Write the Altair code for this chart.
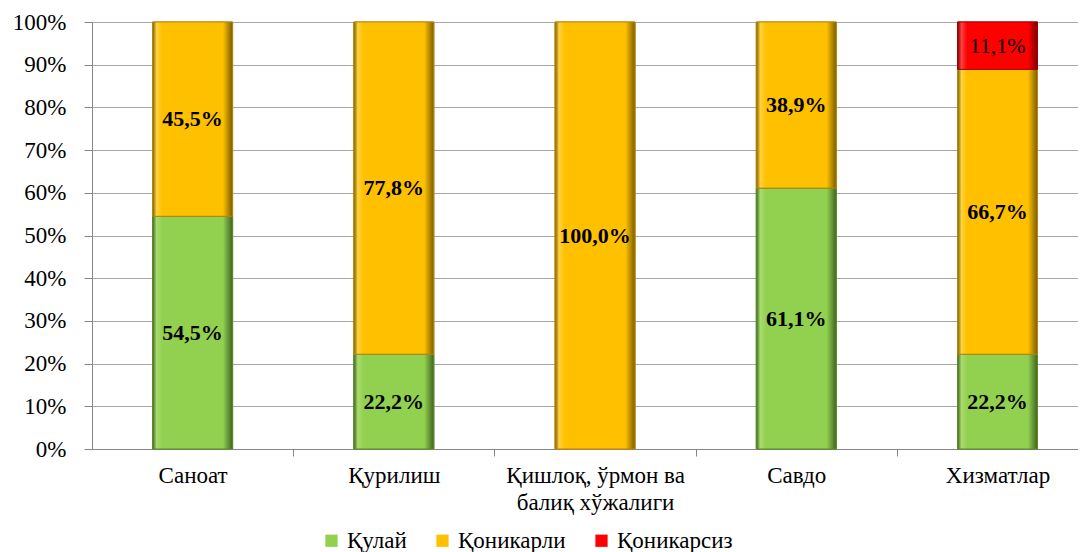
import altair as alt
import pandas as pd

categories = ["Саноат", "Қурилиш", "Қишлоқ, ўрмон ва балиқ хўжалиги", "Савдо", "Хизматлар"]
category_lines = [["Саноат"], ["Қурилиш"], ["Қишлоқ, ўрмон ва", "балиқ хўжалиги"], ["Савдо"], ["Хизматлар"]]
series = ["Қулай", "Қоникарли", "Қоникарсиз"]
kulay = [54.5, 22.2, 0.0, 61.1, 22.2]
konikarli = [45.5, 77.8, 100.0, 38.9, 66.7]
konikarsiz = [0.0, 0.0, 0.0, 0.0, 11.1]
y_ticks = list(range(0, 101, 10))

colors = ["#92D050", "#FFC000", "#FF0000"]
edge_light = ["#A9DC6E", "#FFD23F", "#FF4040"]
edge_dark = ["#3F6420", "#7A5C00", "#7A0000"]
strokes = ["#5E8A2E", "#B8860B", "#A00000"]
FONT = "Liberation Serif"

rows = []
for s_i, (name, vals) in enumerate(zip(series, [kulay, konikarli, konikarsiz])):
    for c_i, v in enumerate(vals):
        rows.append({
            "idx": c_i,
            "category": categories[c_i],
            "series": name,
            "order": s_i,
            "value": v,
            "label": f"{v:.1f}".replace(".", ",") + "%",
        })
df = pd.DataFrame(rows)


def lit(lines):
    if len(lines) == 1:
        return "'" + lines[0] + "'"
    return "[" + ",".join("'" + l + "'" for l in lines) + "]"


expr = "''"
for i in reversed(range(len(category_lines))):
    expr = f"datum.value == {i} ? {lit(category_lines[i])} : ({expr})"

x_values = [i * 0.5 for i in range(0, 2 * (len(categories) - 1) + 1)]

base = (
    alt.Chart(df)
    .transform_filter("datum.value > 0")
    .transform_stack(
        stack="value",
        groupby=["idx"],
        as_=["y0", "y1"],
        sort=[alt.SortField("order", order="ascending")],
    )
    .transform_calculate(ymid="(datum.y0 + datum.y1) / 2")
)

x_scale = alt.Scale(domain=[-0.5, 4.4], nice=False, zero=False, padding=0)
y_scale = alt.Scale(domain=[0, 100], nice=False, padding=0)

x_enc = alt.X(
    "idx:Q",
    title=None,
    scale=x_scale,
    axis=alt.Axis(
        values=x_values,
        labelExpr=expr,
        grid=False,
        tickSize=7,
        tickColor="#868686",
        tickOpacity={"condition": {"test": "datum.value % 1 == 0", "value": 0}, "value": 1},
        domainColor="#868686",
        labelFont=FONT,
        labelFontSize=23,
        labelColor="#000000",
        labelPadding=8,
        labelLineHeight=27,
        labelOverlap=False,
        labelFlush=False,
    ),
)

y_enc = alt.Y(
    "y0:Q",
    title=None,
    scale=y_scale,
    axis=alt.Axis(
        values=y_ticks,
        labelExpr="datum.value + '%'",
        grid=True,
        gridColor="#A6A6A6",
        tickSize=8,
        tickColor="#868686",
        domainColor="#868686",
        labelFont=FONT,
        labelFontSize=23,
        labelColor="#000000",
        labelPadding=18,
    ),
)

bars = base.mark_bar(size=80, strokeWidth=1).encode(
    x=x_enc,
    y=y_enc,
    y2="y1:Q",
    color=alt.Color(
        "series:N",
        scale=alt.Scale(domain=series, range=colors),
        legend=alt.Legend(
            title=None,
            orient="none",
            legendX=228,
            legendY=507,
            direction="horizontal",
            symbolType="square",
            symbolSize=150,
            symbolStrokeWidth=0,
            labelFont=FONT,
            labelFontSize=23,
            labelColor="#000000",
            labelOffset=4,
            columnPadding=24,
        ),
    ),
    stroke=alt.Stroke(
        "series:N", scale=alt.Scale(domain=series, range=strokes), legend=None
    ),
)

# bevel-like shading overlays, one per series
shades = []
for s_i in range(len(series)):
    grad = alt.Gradient(
        gradient="linear",
        x1=0, x2=1, y1=0, y2=0,
        stops=[
            alt.GradientStop(offset=0, color=edge_dark[s_i]),
            alt.GradientStop(offset=0.05, color=edge_light[s_i]),
            alt.GradientStop(offset=0.12, color=colors[s_i]),
            alt.GradientStop(offset=0.88, color=colors[s_i]),
            alt.GradientStop(offset=1, color=edge_dark[s_i]),
        ],
    )
    shades.append(
        base.transform_filter(f"datum.order == {s_i}")
        .mark_bar(size=80, color=grad, stroke=strokes[s_i], strokeWidth=1)
        .encode(
            x=alt.X("idx:Q", title=None, scale=x_scale),
            y=alt.Y("y0:Q", title=None, scale=y_scale),
            y2="y1:Q",
        )
    )

labels_bold = base.transform_filter("datum.order < 2").mark_text(
    font=FONT, fontSize=22, fontWeight="bold", color="#000000"
).encode(
    x=alt.X("idx:Q", title=None, scale=x_scale),
    y=alt.Y("ymid:Q", title=None, scale=y_scale),
    text="label:N",
)

labels_norm = base.transform_filter("datum.order == 2").mark_text(
    font=FONT, fontSize=22, fontWeight="normal", color="#000000"
).encode(
    x=alt.X("idx:Q", title=None, scale=x_scale),
    y=alt.Y("ymid:Q", title=None, scale=y_scale),
    text="label:N",
)

chart = (
    alt.layer(bars, *shades, labels_bold, labels_norm)
    .properties(
        width=986,
        height=427,
        autosize=alt.AutoSizeParams(type="none"),
        padding={"left": 84, "top": 14, "right": 0, "bottom": 103},
        background="#FFFFFF",
    )
    .configure_view(strokeWidth=0)
    .configure_axis(labelFont=FONT)
    .configure_legend(labelFont=FONT)
    .configure_text(font=FONT)
    .configure(font=FONT)
)

chart.save("out.html", embed_options={"renderer": "svg", "actions": False})
